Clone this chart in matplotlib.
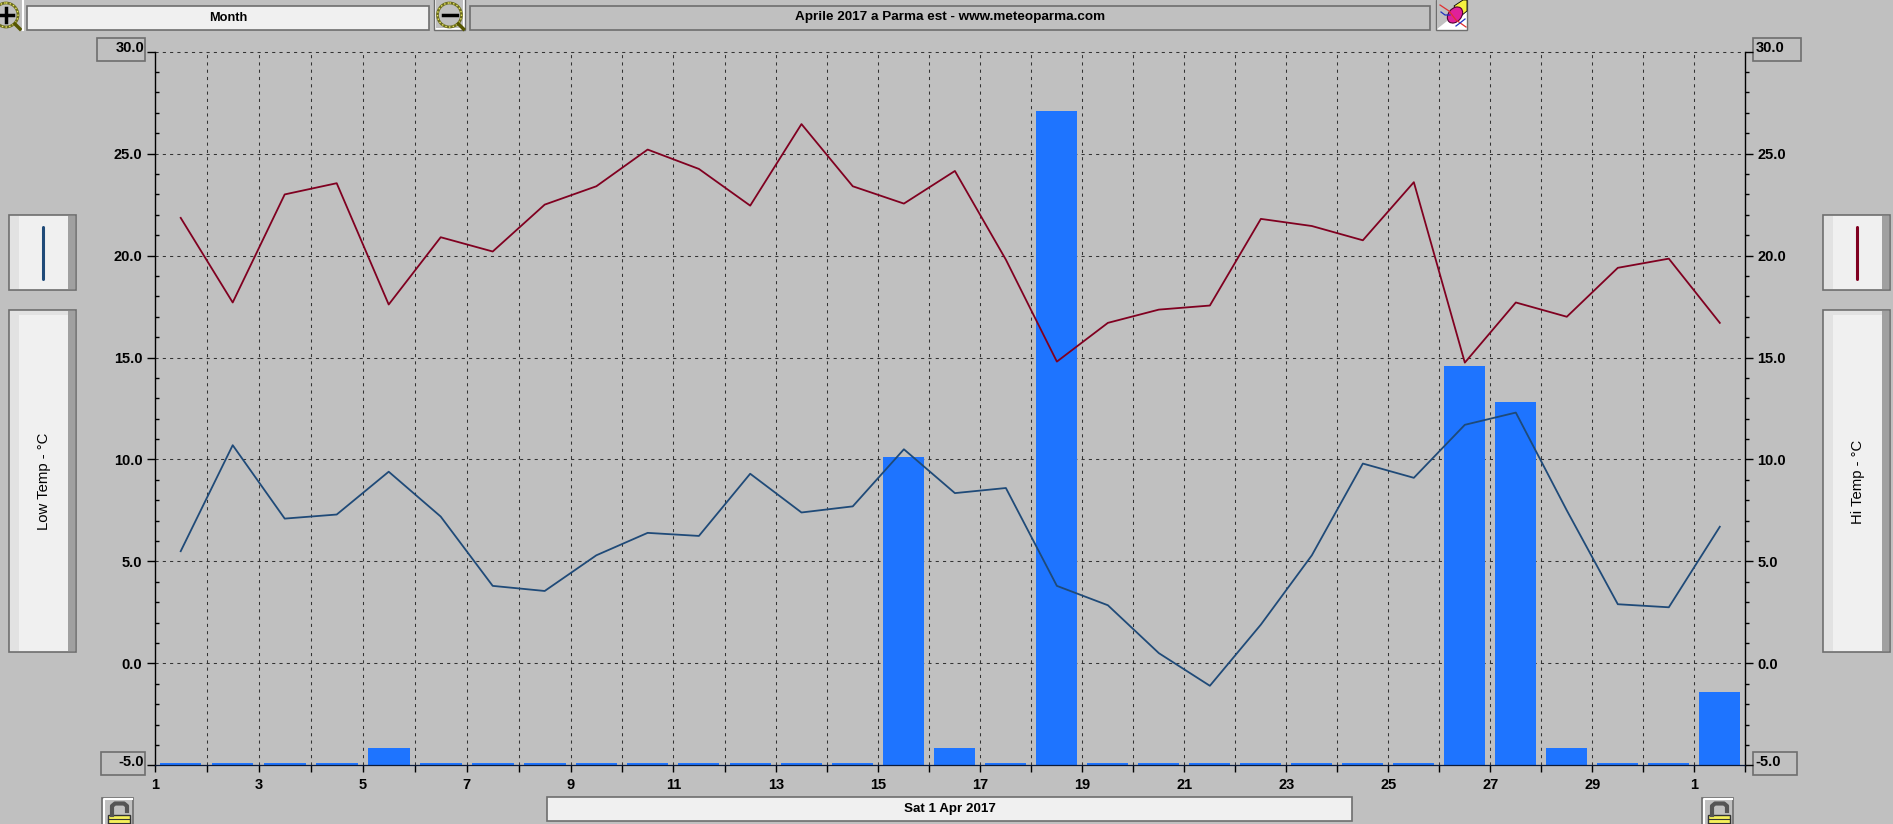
import matplotlib
matplotlib.use('Agg')
import matplotlib.pyplot as plt
import numpy as np
from matplotlib.patches import Rectangle, Circle, Polygon, Ellipse

plt.rcParams['font.family'] = ['Liberation Sans', 'DejaVu Sans']

W, H = 1893, 824
BG = '#c0c0c0'
EDGE = '#6e6e6e'

# one value per day, index 0 = 1 Apr
hi_temp = [21.85, 17.7, 23.0, 23.55, 17.6, 20.9, 20.2, 22.5, 23.4, 25.2, 24.25,
           22.45, 26.45, 23.4, 22.55, 24.15, 19.8, 14.8, 16.7, 17.35, 17.55,
           21.8, 21.45, 20.75, 23.6, 14.75, 17.7, 17.0, 19.4, 19.85, 16.7]
low_temp = [5.5, 10.7, 7.1, 7.3, 9.4, 7.2, 3.8, 3.55, 5.3, 6.4, 6.25, 9.3, 7.4,
            7.7, 10.5, 8.35, 8.6, 3.8, 2.85, 0.5, -1.1, 1.9, 5.3, 9.8, 9.1,
            11.7, 12.3, 7.5, 2.9, 2.75, 6.7]
# top of the rain bars, read on the temperature scale
rain_top = [-4.9, -4.9, -4.9, -4.9, -4.15, -4.9, -4.9, -4.9, -4.9, -4.9,
            -4.9, -4.9, -4.9, -4.9, 10.1, -4.15, -4.9, 27.1, -4.9, -4.9,
            -4.9, -4.9, -4.9, -4.9, -4.9, 14.6, 12.8, -4.15, -4.9, -4.9, -1.4]
x_labels = ['1', '3', '5', '7', '9', '11', '13', '15', '17', '19', '21', '23',
            '25', '27', '29', '1']
y_ticks = [30, 25, 20, 15, 10, 5, 0, -5]
# the day spacing in the screenshot is not quite even: day index -> pixel
day_knots = [0, 8, 14, 31]
pixel_knots = [154.7, 570.7, 878.4, 1745.3]

fig = plt.figure(figsize=(W / 100, H / 100), dpi=100, facecolor=BG)

# pixel layer for the window controls
bg = fig.add_axes([0, 0, 1, 1])
bg.set_xlim(0, W)
bg.set_ylim(H, 0)
bg.axis('off')


def button(x0, y0, x1, y1, face='#f0f0f0'):
    bg.add_patch(Rectangle((x0, y0), x1 - x0, y1 - y0, fc=face, ec=EDGE, lw=1.2))


def side_panel(x0, y0, x1, y1, top_strip=False):
    button(x0, y0, x1, y1)
    if top_strip:
        bg.add_patch(Rectangle((x0 + 1, y0 + 1), x1 - x0 - 2, 3.5, fc='#e2e2e2', lw=0))
    bg.add_patch(Rectangle((x0 + 1, y0 + 1), 9, y1 - y0 - 2, fc='#e2e2e2', lw=0))
    bg.add_patch(Rectangle((x1 - 8, y0 + 1), 7, y1 - y0 - 2, fc='#a0a0a0', lw=0))


def magnifier(cx, cy, sign):
    bg.plot([cx + 9, cx + 14], [cy + 9, cy + 14], color='#555500', lw=2.5)
    bg.add_patch(Circle((cx, cy), 12, fc=BG, ec='#6c6c20', lw=2))
    bg.add_patch(Circle((cx, cy), 12, fc='none', ec='#e8e860', lw=1, ls=':'))
    bg.plot([cx - 7, cx + 7], [cy, cy], color='k', lw=2.5)
    if sign == '+':
        bg.plot([cx, cx], [cy - 7, cy + 7], color='k', lw=2.5)


def padlock(x0):
    bg.add_patch(Rectangle((x0, 798), 31, 30, fc=BG, ec=EDGE, lw=1.2))
    bg.plot([x0 + 1.5, x0 + 1.5, x0 + 30], [828, 799, 799], color='white', lw=1.5)
    bg.plot([x0 + 10, x0 + 10, x0 + 13, x0 + 22, x0 + 25, x0 + 25],
            [815, 806, 803.5, 803.5, 806, 811], color='#555555', lw=3)
    bg.add_patch(Rectangle((x0 + 6, 815), 22, 12, fc='#f5f05a', ec='#333333', lw=1))
    bg.plot([x0 + 6, x0 + 28], [819, 819], color='#333333', lw=0.8)
    bg.plot([x0 + 6, x0 + 28], [823, 823], color='#333333', lw=0.8)


# top bar
magnifier(6, 15, '+')
bg.plot([22.5, 22.5], [0, 30], color='white', lw=1.5)
button(27, 6, 429, 30)
bg.text(228, 18, 'Month', ha='center', va='center', fontsize=9.2, fontweight='bold')
bg.add_patch(Rectangle((434, -2), 31, 32, fc='white', ec=EDGE, lw=1))
bg.add_patch(Rectangle((436, 0), 27, 28, fc=BG, lw=0))
magnifier(449.5, 15, '-')
button(470, 6, 1430, 30, face=BG)
bg.text(950, 17, 'Aprile 2017 a Parma est - www.meteoparma.com', ha='center', va='center',
        fontsize=9.7, fontweight='bold')

# eraser icon
bg.add_patch(Rectangle((1436, 0), 31, 30, fc='white', ec=EDGE, lw=1))
bg.add_patch(Polygon([(1437, 0), (1466, 0), (1466, 6), (1437, 29)], fc=BG, lw=0))
bg.plot([1440, 1449, 1456, 1466], [5, 11, 20, 27], color='#e03030', lw=0.9)
bg.plot([1441, 1445, 1450], [12, 15, 15], color='#2030c0', lw=0.9)
bg.plot([1456, 1460, 1465], [26, 23, 19], color='#2030c0', lw=0.9)
bg.add_patch(Polygon([(1454, 6), (1463, 0), (1467, 0), (1467, 11), (1461, 16)],
                     fc='#f5f040', ec='k', lw=0.6))
bg.add_patch(Ellipse((1455, 15), 18, 13, angle=-50, fc='#e0209a', ec='#500030', lw=0.8))

# side panels
side_panel(9, 215, 76, 290)
bg.plot([42.5, 42.5], [227, 279], color='#1f4a78', lw=2.2, solid_capstyle='round')
side_panel(9, 310, 76, 652, top_strip=True)
bg.text(44, 481, 'Low Temp - \u00b0C', rotation=90, ha='center', va='center', fontsize=10.7)
side_panel(1823, 215, 1890, 290)
bg.plot([1856.5, 1856.5], [227, 279], color='#800020', lw=2.2, solid_capstyle='round')
side_panel(1823, 310, 1890, 652, top_strip=True)
bg.text(1858, 482, 'Hi Temp - \u00b0C', rotation=90, ha='center', va='center', fontsize=10.7)

# bottom bar
button(547, 797, 1352, 821)
bg.text(950, 809, 'Sat 1 Apr 2017', ha='center', va='center', fontsize=9.6, fontweight='bold')
padlock(102)
padlock(1702)

# value boxes on the axis ends, their numbers sit a little above the tick
for x0, x1, y0, y1 in [(97, 145, 38, 61), (101, 145, 752, 775),
                       (1753, 1801, 38, 61), (1753, 1797, 752, 775)]:
    bg.add_patch(Rectangle((x0, y0), x1 - x0, y1 - y0, fc=BG, ec=EDGE, lw=1.2))
for x, ha, y, txt in [(144, 'right', 48, '30.0'), (144, 'right', 762, '-5.0'),
                      (1756, 'left', 48, '30.0'), (1755, 'left', 762, '-5.0')]:
    bg.text(x, y, txt, ha=ha, va='center', fontsize=10.5, fontweight='bold')

# chart
left, right, top, bottom = 154.7, 1745.3, 51.7, 765.3
ax = fig.add_axes([left / W, 1 - bottom / H, (right - left) / W, (bottom - top) / H])
ax.patch.set_alpha(0)
n_days = len(hi_temp)
ax.set_xscale('function', functions=(lambda v: np.interp(v, day_knots, pixel_knots),
                                     lambda v: np.interp(v, pixel_knots, day_knots)))
ax.set_xlim(0, n_days)
ax.set_ylim(-5, 30)

days = [i + 0.5 for i in range(n_days)]
ax.bar(days, [t + 5 for t in rain_top], bottom=-5, width=0.8, color='#1e74ff', zorder=2)
for d in range(1, n_days):
    ax.axvline(d, color='#333333', lw=0.75, dashes=(3, 4), zorder=1)
for t in y_ticks[:-1]:
    ax.axhline(t, color='#333333', lw=0.75, dashes=(3, 4), zorder=1, clip_on=False)
ax.plot(days, hi_temp, color='#800020', lw=1.3, zorder=3)
ax.plot(days, low_temp, color='#1f4a78', lw=1.3, zorder=3)
ax.axhline(-5, color='#0a1a3a', lw=0.9, zorder=4, clip_on=False)

for s in ['top', 'bottom']:
    ax.spines[s].set_visible(False)
ax.spines['left'].set_linewidth(1)
ax.spines['right'].set_linewidth(1)

major_labels = ['%.1f' % t for t in y_ticks]
major_labels[0] = major_labels[-1] = ''
minor_ticks = [t for t in range(-5, 31) if t % 5 != 0]

ax.set_xticks(range(0, n_days + 1))
ax.set_xticks([], minor=True)
ax.set_xticklabels([x_labels[i // 2] if i % 2 == 0 and i // 2 < len(x_labels) else ''
                    for i in range(n_days + 1)], fontsize=10.5, fontweight='bold')
ax.tick_params(axis='x', length=5, width=1, pad=4, color='k')
ax.set_yticks(y_ticks)
ax.set_yticks(minor_ticks, minor=True)
ax.set_yticklabels(major_labels, fontsize=10.5, fontweight='bold')
ax.tick_params(axis='y', which='major', length=5.8, width=1, pad=3)
ax.tick_params(axis='y', which='minor', length=2.7, width=1, direction='in')

# right hand axis carries the same scale, labels and outward minor ticks
ax2 = ax.twinx()
ax2.set_ylim(-5, 30)
ax2.patch.set_alpha(0)
for s in ax2.spines.values():
    s.set_visible(False)
ax2.set_yticks(y_ticks)
ax2.set_yticks(minor_ticks, minor=True)
ax2.set_yticklabels(major_labels, fontsize=10.5, fontweight='bold')
ax2.tick_params(axis='y', which='major', length=5.8, width=1, pad=3)
ax2.tick_params(axis='y', which='minor', length=2.7, width=1, direction='out')

fig.savefig('out.png', dpi=100, facecolor=BG)
